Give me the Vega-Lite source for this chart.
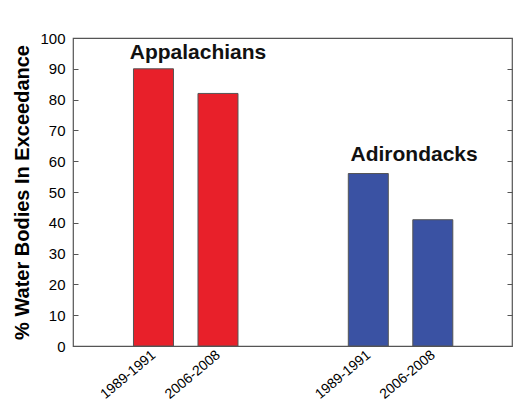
{
  "$schema": "https://vega.github.io/schema/vega-lite/v6.json",
  "autosize": "none",
  "width": 439,
  "height": 308,
  "padding": {"left": 73, "top": 38, "right": 15, "bottom": 67},
  "background": "white",
  "config": {
    "font": "Liberation Sans",
    "view": {"stroke": "#555555", "strokeWidth": 1.2}
  },
  "datasets": {
    "bars": [
      {"pos": 1, "period": "1989-1991", "region": "Appalachians", "pct": 90},
      {"pos": 2, "period": "2006-2008", "region": "Appalachians", "pct": 82},
      {"pos": 4.33, "period": "1989-1991", "region": "Adirondacks", "pct": 56},
      {"pos": 5.33, "period": "2006-2008", "region": "Adirondacks", "pct": 41}
    ],
    "labels": [
      {"pos": 1.69, "y": 95.0, "text": "Appalachians"},
      {"pos": 5.04, "y": 62, "text": "Adirondacks"}
    ]
  },
  "layer": [
    {
      "data": {"name": "bars"},
      "mark": {"type": "bar", "width": 40, "stroke": "#555555", "strokeWidth": 1},
      "encoding": {
        "x": {
          "field": "pos", "type": "quantitative",
          "scale": {"domain": [-0.17, 6.48], "nice": false, "zero": false},
          "axis": {
            "values": [1, 2, 4.33, 5.33],
            "labelExpr": "datum.value < 1.5 || (datum.value > 4 && datum.value < 5) ? '1989-1991' : '2006-2008'",
            "title": null, "grid": false, "domain": false, "ticks": false,
            "labelAngle": -40, "labelAlign": "right", "labelBaseline": "middle",
            "labelFontSize": 14, "labelColor": "black", "labelPadding": 7
          }
        },
        "y": {
          "field": "pct", "type": "quantitative",
          "scale": {"domain": [0, 100], "nice": false},
          "axis": {
            "values": [0, 10, 20, 30, 40, 50, 60, 70, 80, 90, 100],
            "title": "% Water Bodies In Exceedance",
            "titleFontSize": 20, "titleFontWeight": "bold", "titleColor": "black", "titlePadding": 7,
            "grid": false, "domain": false, "offset": -5, "tickSize": 5, "tickColor": "#555555",
            "labelFontSize": 15, "labelColor": "black", "labelPadding": 8
          }
        },
        "color": {
          "field": "region", "type": "nominal",
          "scale": {"domain": ["Appalachians", "Adirondacks"], "range": ["#E8202A", "#3A52A3"]},
          "legend": null
        }
      }
    },
    {
      "data": {"name": "labels"},
      "mark": {"type": "text", "fontSize": 21, "fontWeight": "bold", "color": "#111111", "baseline": "middle", "align": "center"},
      "encoding": {
        "x": {"field": "pos", "type": "quantitative"},
        "y": {
          "field": "y", "type": "quantitative",
          "axis": {"orient": "right", "labels": false, "title": null, "grid": false, "domain": false,
                   "values": [0, 10, 20, 30, 40, 50, 60, 70, 80, 90, 100],
                   "offset": -5, "tickSize": 5, "tickColor": "#555555"}
        },
        "text": {"field": "text"}
      }
    }
  ],
  "resolve": {"axis": {"y": "independent"}}
}
